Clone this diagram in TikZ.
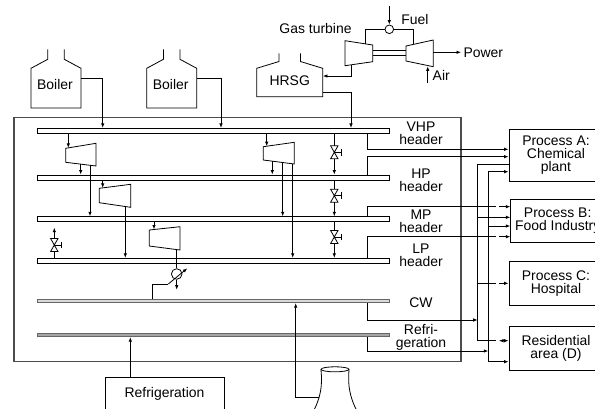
\documentclass[tikz,border=0pt]{standalone}
\usepackage{fontspec}
\setmainfont{Liberation Sans}
\usetikzlibrary{arrows.meta}

\newcommand{\figfont}{\fontsize{14}{13}\selectfont}

\tikzset{
  >={Latex[length=4.5bp,width=3.5bp]},
  pipe/.style={line width=0.8bp},
  flow/.style={pipe, ->},
  both/.style={pipe, <->},
  hdr/.style={draw, fill=white, line width=0.8bp, minimum width=352bp, minimum height=5bp, inner sep=0pt},
  cwbar/.style={hdr, draw=black!60, fill=gray!30, minimum height=3bp},
  rfbar/.style={hdr, draw=black!60, fill=gray!70, minimum height=3bp},
  lbl/.style={align=center, inner sep=0pt},
  proc/.style={draw, line width=0.8bp, align=center, minimum width=94bp, inner sep=0pt},
  valve/.pic={
    \draw[pipe, fill=white] (-3.7,-6.5) -- (3.7,-6.5) -- (0,0) -- cycle;
    \draw[pipe, fill=white] (0,0) -- (-3.7,6.5) -- (3.7,6.5) -- cycle;
    \draw[pipe] (0,0) -- (6.7,0) (6.7,-3.3) -- (6.7,3.3);
  },
  boiler/.pic={
    \draw[pipe] (-8.3,-38.9) -- (-8.3,-28.9) -- (-25,-19.9) -- (-25,19.8) -- (25,19.8) -- (25,-19.9) -- (8.3,-28.9) -- (8.3,-38.9);
    \node[inner sep=0pt] (-label) at (-1,-4) {Boiler};
    \coordinate (-out) at (25,-9.9);
  }
}

\begin{document}
\begin{tikzpicture}[x=1bp, y=-1bp, every node/.style={font=\figfont}]
\useasboundingbox (0,0) rectangle (595,408);

% site boundary
\draw[line width=1.1bp, black!70] (14,117.3) rectangle (461,361.7);

% headers
\node[hdr] (vhp) at (213,130.8) {};
\node[hdr] (hp) at (213,177.5) {};
\node[hdr] (mp) at (213,219.2) {};
\node[hdr] (lp) at (213,260.8) {};
\node[cwbar] (cw) at (213,301.2) {};
\node[rfbar] (rf) at (213,335.2) {};

\node[lbl] at (421,133.5) {VHP\\header};
\node[lbl] at (421,180) {HP\\header};
\node[lbl] at (421,221.5) {MP\\header};
\node[lbl] at (421,255) {LP\\header};
\node[lbl] at (421,302.7) {CW};
\node[lbl] at (421,337.5) {Refri-\\geration};

% consumers
\node[proc, minimum height=52.4bp] (procA) at (556,155.5) {Process A:\\Chemical\\plant};
\node[proc, minimum height=43.7bp] (procB) at (557.7,220.8) {Process B:\\Food Industry};
\node[proc, minimum height=43.5bp] (procC) at (556,283.3) {Process C:\\Hospital};
\node[proc, minimum height=43.5bp] (procD) at (556,348.3) {Residential\\area (D)};

% boilers
\pic (boilA) at (56,88.2) {boiler};
\pic (boilB) at (171.7,88.2) {boiler};
\draw[flow] (boilA-out) -| (vhp.north -| 102.7,0);
\draw[flow] (boilB-out) -| (vhp.north -| 221,0);

% HRSG
\draw[pipe] (279,53.3) -- (279,61.5) -- (256.7,68.3) -- (256.7,96.7) -- (322.7,96.7) -- (322.7,68.3) -- (300.4,61.5) -- (300.4,53.3);
\node[minimum width=66bp, minimum height=28.4bp, inner sep=0pt] (hrsg) at (289.7,81) {HRSG};
\draw[flow] (hrsg.east |- 0,92.7) -| (vhp.north -| 351,0);

% gas turbine
\node (gtLabel) at (315.5,29) {Gas turbine};
\draw[pipe] (345,40.7) -- (372.7,45) -- (372.7,61.7) -- (345,65.7) -- cycle;
\draw[pipe] (406,46) -- (433.3,40) -- (433.3,66.7) -- (406,61) -- cycle;
\draw[pipe] (372.7,50) -- (406,50) (372.7,55) -- (406,55);
\node[circle, draw, pipe, minimum size=8.6bp, inner sep=0pt] (comb) at (389.3,29.3) {};
\draw[pipe] (365.7,43.9) |- (comb.west);
\draw[pipe] (comb.east) -| (413.3,44.4);
\coordinate (fuelIn) at (389.3,6);
\draw[flow] (fuelIn) -- (comb.north);
\node[inner sep=0pt] at (415,20) {Fuel};
\draw[flow] (351,64.8) |- (hrsg.east |- 0,76);
\coordinate (powerOut) at (461,52.3);
\draw[flow] (433.3,52.3) -- (powerOut);
\node[inner sep=0pt, anchor=west] at (463.3,52.3) {Power};
\coordinate (airIn) at (427.7,82.7);
\draw[flow] (airIn) -- (427.7,66.3);
\node[inner sep=0pt, anchor=west] at (432.5,75) {Air};

% steam turbines
\draw[pipe] (65.7,148.3) -- (96,143.3) -- (96,166) -- (65.7,162.3) -- cycle;
\draw[flow] (vhp.south -| 68.3,0) -- (68.3,147.9);
\draw[flow] (80.7,164.1) -- (hp.north -| 80.7,0);
\draw[flow] (90,165.3) -- (mp.north -| 90,0);

\draw[pipe] (99.3,188.3) -- (130.7,184.3) -- (130.7,207.3) -- (99.3,202.7) -- cycle;
\draw[flow] (hp.south -| 102.7,0) -- (102.7,187.9);
\draw[flow] (125.3,206.5) -- (lp.north -| 125.3,0);

\draw[pipe] (149.3,230) -- (180,226.7) -- (180,250) -- (149.3,246) -- cycle;
\draw[flow] (mp.south -| 154,0) -- (154,229.5);

\draw[pipe] (263.3,146.7) -- (294.3,142.3) -- (294.3,164) -- (263.3,160) -- cycle;
\draw[flow] (vhp.south -| 266.7,0) -- (266.7,146.2);
\draw[flow] (272.3,161.2) -- (hp.north -| 272.3,0);
\draw[flow] (282.7,162.5) -- (mp.north -| 282.7,0);
\draw[flow] (292.7,163.8) -- (lp.north -| 292.7,0);

% condenser
\node[circle, draw, pipe, minimum size=10.6bp, inner sep=0pt] (cond) at (176.7,274) {};
\draw[pipe] (176.7,249.6) -- (cond.north);
\draw[flow] (cond.south) -- ++(0,10);
\draw[pipe] (cw.north -| 152.3,0) |- (168.3,284);
\draw[flow] (168.3,284) -- (187.3,268.3);

% letdown valves
\draw[flow] (vhp.south -| 334.3,0) -- (hp.north -| 334.3,0);
\draw[flow] (hp.south -| 334.3,0) -- (mp.north -| 334.3,0);
\draw[flow] (mp.south -| 334.3,0) -- (lp.north -| 334.3,0);
\pic at (334.3,152.3) {valve};
\pic at (334.3,195.7) {valve};
\pic at (334.3,237) {valve};
\coordinate (vent) at (54.3,227.7);
\draw[flow] (lp.north -| 54.3,0) -- (vent);
\pic at (54.3,245) {valve};

% distribution
\coordinate (tap) at (367.3,0);
\coordinate (cwbus) at (477.7,0);
\coordinate (rfbus) at (488.3,0);
\draw[flow] (vhp.south -| tap) |- (procA.west |- 0,149.3);
\draw[flow] (hp.north -| tap) |- (procA.west |- 0,156.7);
\draw[flow] (mp.north -| tap) |- (496,206.7) (499,206.7) -- (procB.west |- 0,206.7);
\draw[flow] (lp.north -| tap) |- (496,236.7) (499,236.7) -- (procB.west |- 0,236.7);
\draw[flow] (cw.south -| tap) |- (cwbus |- 0,320);
\draw[flow] (rf.south -| tap) |- (rfbus |- 0,351);
\draw[both] (procA.west |- 0,164.3) -| (cwbus |- 0,340.7) -- (496,340.7) (499,340.7) -- (procD.west |- 0,340.7);
\draw[flow] (cwbus |- 0,217.3) -- (procB.west |- 0,217.3);
\draw[flow] (cwbus |- 0,283.3) -- (496,283.3) (499,283.3) -- (procC.west |- 0,283.3);
\draw[both] (procA.west |- 0,171.7) -| (rfbus |- 0,361.7) -- (procD.west |- 0,361.7);
\draw[flow] (rfbus |- 0,226) -- (procB.west |- 0,226);

% refrigeration plant
\node[draw, pipe, anchor=north, minimum width=119bp, text height=10bp, text depth=30bp, inner ysep=9.5bp] (refrig) at (164.5,377.3) {Refrigeration};
\draw[flow] (refrig.north -| 130.3,0) -- (rf.south -| 130.3,0);

% cooling tower
\draw[pipe] (335,369.3) ellipse [x radius=14, y radius=2.5];
\draw[pipe] (321,369.8) .. controls (322.5,385) and (321,397) .. (313,412);
\draw[pipe] (349,369.8) .. controls (347.7,385) and (349.5,397) .. (357.5,412);
\coordinate (towerOut) at (319.2,397.3);
\draw[flow] (towerOut) -| (cw.south -| 295.7,0);
\end{tikzpicture}
\end{document}
